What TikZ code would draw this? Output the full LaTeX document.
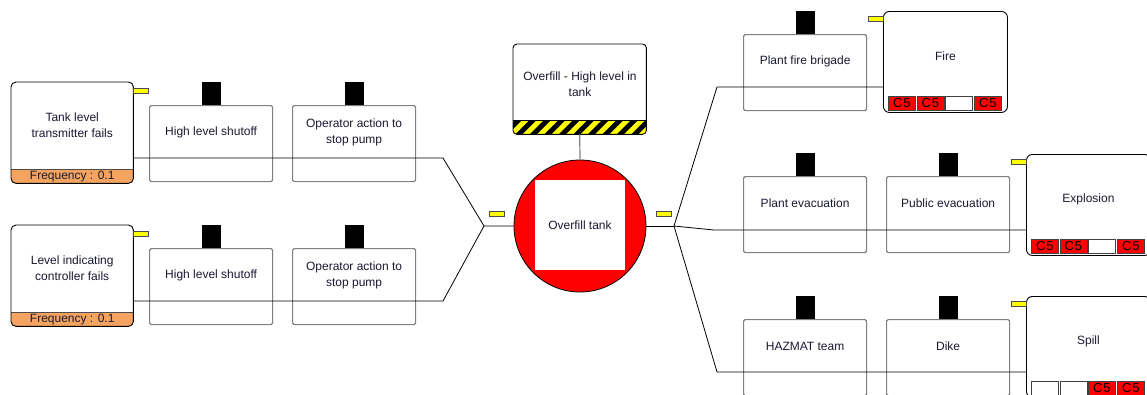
\documentclass[tikz,border=0pt]{standalone}
\usepackage{fontspec}
\setmainfont{Liberation Sans}
\usetikzlibrary{calc}
\definecolor{txtc}{RGB}{25,25,50}
\definecolor{bandc}{RGB}{244,164,96}
\definecolor{bgray}{RGB}{128,128,128}
\definecolor{ylwc}{RGB}{255,255,0}
\definecolor{redc}{RGB}{255,0,0}
\newcommand\mybarrier[4]{%
  \node[barrier, anchor=north west] (#1) at (#2,#3) {};
  \node[tabbox, anchor=south] (#1tab) at ($(#1.north)+(0.5,0)$) {};
  \node[txt] (#1txt) at ($(#1.north)+(0,27)$) {#4};
}
\newcommand\mythreat[4]{%
  \node[anchor=north west, minimum width=122pt, minimum height=101pt, inner sep=0pt, fill=white, rounded corners=5pt] (#1) at (#2,#3) {};
  \begin{scope}
    \clip[rounded corners=5pt] (#1.north west) rectangle (#1.south east);
    \fill[bandc] ($(#1.south west)+(0,-14)$) rectangle (#1.south east);
  \end{scope}
  \draw[black!70, line width=0.6pt] ($(#1.south west)+(0,-14)$) -- ($(#1.south east)+(0,-14)$);
  \draw[rounded corners=5pt, line width=0.9pt] (#1.north west) rectangle (#1.south east);
  \node[txt] (#1txt) at ($(#1.north)+(0,43)$) {#4};
  \node[txt] (#1freq) at ($(#1.south)+(0,-7)$) {Frequency : 0.1};
  \node[ylw, anchor=north west] (#1y) at ($(#1.north east)+(0,6)$) {};
}
\newcommand\mycell[4]{% parent, offset, fill, text
  \node[cellbox, fill=#3, anchor=north west] at ($(#1.north west)+(#2,85)$) {#4};
}
\newcommand\myconseq[4]{% name, left, top, text
  \node[anchor=north west, minimum width=124pt, minimum height=101pt, inner sep=0pt, fill=white, draw=black, line width=0.9pt, rounded corners=6pt] (#1) at (#2,#3) {};
  \node[txt] (#1txt) at ($(#1.north)+(0,45)$) {#4};
  \node[ylw, anchor=north east] (#1y) at ($(#1.north west)+(0,5)$) {};
}
\begin{document}
\begin{tikzpicture}[x=1pt, y=-1pt, font=\fontsize{12}{16}\selectfont,
  txt/.style={text=txtc, align=center, inner sep=0pt},
  barrier/.style={draw=bgray, line width=1.2pt, rounded corners=1.5pt, fill=white, inner sep=0pt, minimum width=123pt, minimum height=76pt},
  tabbox/.style={fill=black, inner sep=0pt, minimum width=19pt, minimum height=23pt},
  ylw/.style={fill=ylwc, draw=black!70, line width=0.5pt, minimum width=15pt, minimum height=5pt, inner sep=0pt},
  cellbox/.style={draw=black!75, line width=0.6pt, minimum width=27pt, minimum height=14pt, inner sep=0pt, text=black, font=\fontsize{13}{13}\selectfont},
  conn/.style={draw=black, line width=0.8pt},
  link/.style={draw=bgray, line width=1.2pt}]
\useasboundingbox (0,0) rectangle (1147,394);
\clip (0,0) rectangle (1147,394);

% threats
\mythreat{t1}{11}{82}{Tank level\\transmitter fails}
\mythreat{t2}{11}{225}{Level indicating\\controller fails}

% left barriers
\mybarrier{b11}{149}{105}{High level shutoff}
\mybarrier{b12}{292}{105}{Operator action to\\stop pump}
\mybarrier{b21}{149}{248}{High level shutoff}
\mybarrier{b22}{292}{248}{Operator action to\\stop pump}

% right barriers
\mybarrier{c11}{743}{34}{Plant fire brigade}
\mybarrier{c21}{743}{176}{Plant evacuation}
\mybarrier{c22}{886}{176}{Public evacuation}
\mybarrier{c31}{743}{319}{HAZMAT team}
\mybarrier{c32}{886}{319}{Dike}

% consequences
\myconseq{fire}{883}{11}{Fire}
\mycell{fire}{5}{redc}{C\kern1pt 5}
\mycell{fire}{33.5}{redc}{C\kern1pt 5}
\mycell{fire}{62}{white}{}
\mycell{fire}{91}{redc}{C\kern1pt 5}
\myconseq{expl}{1026}{154}{Explosion}
\mycell{expl}{5}{redc}{C\kern1pt 5}
\mycell{expl}{33.5}{redc}{C\kern1pt 5}
\mycell{expl}{62}{white}{}
\mycell{expl}{91}{redc}{C\kern1pt 5}
\myconseq{spill}{1026}{296}{Spill}
\mycell{spill}{5}{white}{}
\mycell{spill}{33.5}{white}{}
\mycell{spill}{62}{redc}{C\kern1pt 5}
\mycell{spill}{91}{redc}{C\kern1pt 5}

% top event
\node[anchor=north west, minimum width=133pt, minimum height=90pt, inner sep=0pt, fill=white, rounded corners=4pt] (te) at (513,44) {};
\begin{scope}
  \clip[rounded corners=4pt] (te.north west) rectangle (te.south east);
  \fill[ylwc] ($(te.south west)+(0,-14)$) rectangle (te.south east);
  \foreach \i in {0,...,10} {
    \fill[black] (513+\i*14.5-12,134) -- ++(7,0) -- ++(14,-14) -- ++(-7,0) -- cycle;
  }
\end{scope}
\draw[black, line width=0.6pt] ($(te.south west)+(0,-14)$) -- ($(te.south east)+(0,-14)$);
\draw[rounded corners=4pt, line width=0.9pt] (te.north west) rectangle (te.south east);
\node[txt] (tetxt) at (580,84.5) {Overfill - High level in\\tank};

% hazard circle
\node[circle, minimum size=132pt, inner sep=0pt, fill=redc, draw=black, line width=0.8pt] (ct) at (580,226) {};
\node[fill=white, minimum size=90pt, inner sep=0pt, text=txtc] (sq) at (580,225) {Overfill tank};
\draw[link] (te.south) -- (ct.north);

% left connectors
\coordinate (a1) at (443,158);
\coordinate (a2) at (443,301);
\coordinate (hl) at (484,226);
\draw[conn] (t1.east |- a1) -- (a1) -- (hl) -- (ct.west);
\draw[conn] (t2.east |- a2) -- (a2) -- (hl);

% right connectors
\coordinate (hr) at (674,226);
\coordinate (r1) at (717,87);
\coordinate (r2) at (714,230);
\coordinate (r3) at (717,372);
\draw[conn] (ct.east) -- (hr);
\draw[conn] (hr) -- (r1) -- (fire.west |- r1);
\draw[conn] (hr) -- (r2) -- (expl.west |- r2);
\draw[conn] (hr) -- (r3) -- (spill.west |- r3);

% small yellow markers near hazard
\node[ylw, anchor=north west] (yl) at (489,211) {};
\node[ylw, anchor=north west] (yr) at (656,211) {};
\end{tikzpicture}
\end{document}
